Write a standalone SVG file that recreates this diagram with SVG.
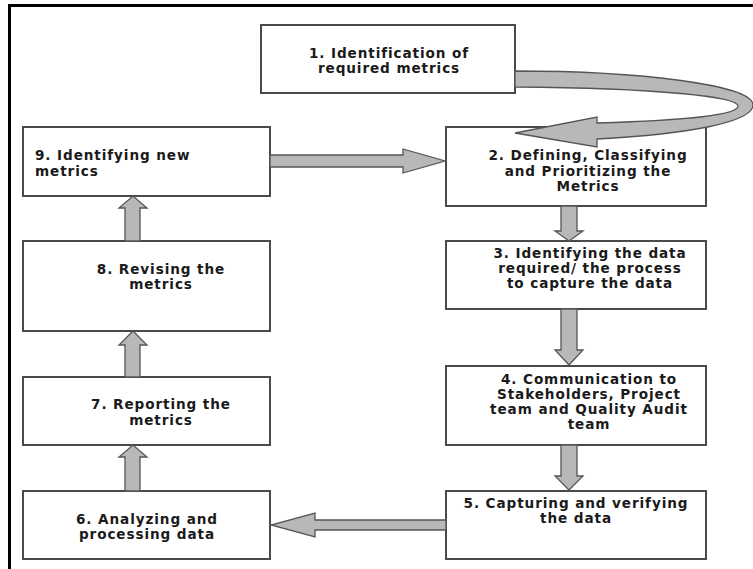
<svg xmlns="http://www.w3.org/2000/svg" width="753" height="569" viewBox="0 0 753 569">
<style>
.box{fill:#fff;stroke:#4a4a4a;stroke-width:2}
.arr{fill:#b8b8b8;stroke:#555;stroke-width:1.3;stroke-linejoin:miter}
.t{font-family:"DejaVu Sans",Verdana,sans-serif;font-weight:bold;font-size:13.6px;letter-spacing:0.9px;fill:#1a1a1a}
.c{text-anchor:middle}
</style>
<rect x="0" y="0" width="753" height="569" fill="#fff"/>
<path d="M9.5,569 V5.5 H753" fill="none" stroke="#000" stroke-width="3"/>
<g id="n1"><rect class="box" x="261" y="25" width="254" height="68"/>
<text class="t c" x="389" y="58">1. Identification of</text>
<text class="t c" x="389" y="73">required metrics</text></g>
<g id="n2"><rect class="box" x="446" y="127" width="260" height="79"/>
<text class="t c" x="588" y="160">2. Defining, Classifying</text>
<text class="t c" x="588" y="176">and Prioritizing the</text>
<text class="t c" x="588" y="191">Metrics</text></g>
<g id="n3"><rect class="box" x="446" y="241" width="260" height="68"/>
<text class="t c" x="590" y="258">3. Identifying the data</text>
<text class="t c" x="590" y="273">required/ the process</text>
<text class="t c" x="590" y="288">to capture the data</text></g>
<g id="n4"><rect class="box" x="446" y="366" width="260" height="79"/>
<text class="t c" x="589" y="384">4. Communication to</text>
<text class="t c" x="589" y="399">Stakeholders, Project</text>
<text class="t c" x="589" y="414">team and Quality Audit</text>
<text class="t c" x="589" y="429">team</text></g>
<g id="n5"><rect class="box" x="446" y="491" width="260" height="68"/>
<text class="t c" x="576" y="508">5. Capturing and verifying</text>
<text class="t c" x="576" y="523">the data</text></g>
<g id="n6"><rect class="box" x="23" y="491" width="247" height="68"/>
<text class="t c" x="147" y="524">6. Analyzing and</text>
<text class="t c" x="147" y="539">processing data</text></g>
<g id="n7"><rect class="box" x="23" y="377" width="247" height="68"/>
<text class="t c" x="161" y="409">7. Reporting the</text>
<text class="t c" x="161" y="425">metrics</text></g>
<g id="n8"><rect class="box" x="23" y="241" width="247" height="90"/>
<text class="t c" x="161" y="274">8. Revising the</text>
<text class="t c" x="161" y="289">metrics</text></g>
<g id="n9"><rect class="box" x="23" y="127" width="247" height="69"/>
<text class="t" x="35" y="160">9. Identifying new</text>
<text class="t" x="35" y="176">metrics</text></g>
<g id="connectors">
<path class="arr" d="M515,71 C640,71 753,85 753,105 C753,122 690,134 597,139 L597,147 L515,133 L597,117 L597,123 C690,120 738,115 738,106 C738,97 660,88 515,87 Z"/>
<path class="arr" d="M270,155 H403 V149 L445,161 L403,173 V167 H270 Z"/>
<path class="arr" d="M561,206 V231 H555 L569,241 L583,231 H577 V206 Z"/>
<path class="arr" d="M561,309 V350 H555 L569,365 L583,350 H577 V309 Z"/>
<path class="arr" d="M561,445 V476 H555 L569,490 L583,476 H577 V445 Z"/>
<path class="arr" d="M446,520 H315 V513 L271,525 L315,537 V530 H446 Z"/>
<path class="arr" d="M125,491 V457 H119 L133,445 L147,457 H140 V491 Z"/>
<path class="arr" d="M125,377 V345 H119 L133,331 L147,345 H140 V377 Z"/>
<path class="arr" d="M125,241 V208 H119 L133,196 L147,208 H140 V241 Z"/>
</g>
</svg>
